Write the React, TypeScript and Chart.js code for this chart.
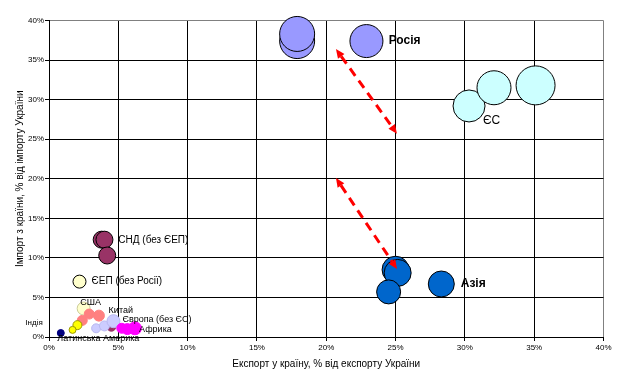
import React, { useEffect, useRef } from "react";
import { Chart, registerables } from "chart.js";

Chart.register(...registerables);

// ---- data (x: export share %, y: import share %, r: bubble radius px) ----
const russiaX = [17.9, 17.9, 22.9];
const russiaY = [37.4, 38.3, 37.4];
const russiaR = [17.5, 17.5, 16.5];

const euX = [30.3, 32.1, 35.1];
const euY = [29.2, 31.5, 31.8];
const euR = [16, 17, 19.5];

const asiaX = [25.0, 25.15, 24.5, 28.3];
const asiaY = [8.5, 8.1, 5.7, 6.7];
const asiaR = [13.5, 13.5, 12, 13];

const cisX = [3.8, 4.0, 4.2];
const cisY = [12.3, 12.3, 10.3];
const cisR = [8.5, 8.5, 8.5];

const eepX = [2.2];
const eepY = [7.0];
const eepR = [6.5];

const usaX = [2.5];
const usaY = [3.6];
const usaR = [6.5];

const chinaX = [2.4, 2.9, 3.6];
const chinaY = [2.1, 2.9, 2.7];
const chinaR = [5, 5, 5.5];

const indiaX = [2.05, 1.7];
const indiaY = [1.5, 0.9];
const indiaR = [4.5, 3.5];

const europeX = [3.4, 4.0, 4.65];
const europeY = [1.1, 1.4, 2.0];
const europeR = [4.5, 5, 6.5];

const otherX = [4.5];
const otherY = [1.3];
const otherR = [4.5];

const africaX = [5.25, 5.65, 6.2];
const africaY = [1.1, 1.0, 1.1];
const africaR = [5, 5.5, 6.5];

const latamX = [0.85];
const latamY = [0.5];
const latamR = [3.5];

const tickValues = [0, 5, 10, 15, 20, 25, 30, 35, 40];

// arrows: [x1, y1, x2, y2]
const arrow1 = [20.7, 36.4, 25.1, 25.7];
const arrow2 = [20.7, 20.1, 25.1, 8.6];

// labels
const labelTexts = ["Росія", "ЄС", "Азія", "СНД (без ЄЕП)", "ЄЕП (без Росії)", "США", "Китай", "Європа (без ЄС)", "Африка", "Латинська Америка", "Індія"];
const labelX = [24.5, 31.3, 29.7, 5.0, 3.07, 3.0, 4.3, 5.3, 6.5, 0.6, -0.45];
const labelY = [37.5, 27.3, 6.7, 12.2, 7.0, 4.4, 3.4, 2.25, 0.9, -0.25, 1.75];
const labelFont = ["bold 12px Arial, 'Liberation Sans', sans-serif", "12px Arial, 'Liberation Sans', sans-serif", "bold 12px Arial, 'Liberation Sans', sans-serif", "10px Arial, 'Liberation Sans', sans-serif", "10px Arial, 'Liberation Sans', sans-serif", "9px Arial, 'Liberation Sans', sans-serif", "9px Arial, 'Liberation Sans', sans-serif", "9px Arial, 'Liberation Sans', sans-serif", "9px Arial, 'Liberation Sans', sans-serif", "9px Arial, 'Liberation Sans', sans-serif", "8px Arial, 'Liberation Sans', sans-serif"];
const labelAlign = ["left", "left", "left", "left", "left", "center", "left", "left", "left", "left", "right"];

const pts = (xs: number[], ys: number[], rs: number[]) => xs.map((x, i) => ({ x, y: ys[i], r: rs[i] }));

const annotPlugin = {
  id: "annot",
  afterDatasetsDraw(chart: any) {
    const ctx = chart.ctx;
    const xs = chart.scales.x;
    const ys = chart.scales.y;
    const drawArrow = (a: number[]) => {
      const x1 = xs.getPixelForValue(a[0]);
      const y1 = ys.getPixelForValue(a[1]);
      const x2 = xs.getPixelForValue(a[2]);
      const y2 = ys.getPixelForValue(a[3]);
      const ang = Math.atan2(y2 - y1, x2 - x1);
      const head = 9;
      const hw = 4;
      ctx.save();
      ctx.strokeStyle = "#ff0000";
      ctx.fillStyle = "#ff0000";
      ctx.lineWidth = 3;
      ctx.setLineDash([9, 6]);
      ctx.beginPath();
      ctx.moveTo(x1 + Math.cos(ang) * head, y1 + Math.sin(ang) * head);
      ctx.lineTo(x2 - Math.cos(ang) * head, y2 - Math.sin(ang) * head);
      ctx.stroke();
      ctx.setLineDash([]);
      const tri = (px: number, py: number, dir: number) => {
        ctx.beginPath();
        ctx.moveTo(px, py);
        ctx.lineTo(px - Math.cos(dir) * head - Math.sin(dir) * hw, py - Math.sin(dir) * head + Math.cos(dir) * hw);
        ctx.lineTo(px - Math.cos(dir) * head + Math.sin(dir) * hw, py - Math.sin(dir) * head - Math.cos(dir) * hw);
        ctx.closePath();
        ctx.fill();
      };
      tri(x2, y2, ang);
      tri(x1, y1, ang + Math.PI);
      ctx.restore();
    };
    drawArrow(arrow1);
    drawArrow(arrow2);

    ctx.save();
    ctx.fillStyle = "#000";
    ctx.textBaseline = "middle";
    labelTexts.forEach((t, i) => {
      ctx.font = labelFont[i];
      ctx.textAlign = labelAlign[i];
      ctx.fillText(t, xs.getPixelForValue(labelX[i]), ys.getPixelForValue(labelY[i]));
    });
    ctx.restore();
  },
};

export default function App() {
  const ref = useRef<HTMLCanvasElement | null>(null);
  useEffect(() => {
    document.body.style.margin = "0";
    if (!ref.current) return;
    Chart.defaults.font.family = "Arial, 'Liberation Sans', sans-serif";
    const ds = (data: any[], bg: string, border: string) => ({
      data,
      backgroundColor: bg,
      borderColor: border,
      borderWidth: 1,
      clip: false as any,
    });
    const gridColor = (c: any) => (c.tick && c.tick.value === 40 ? "#808080" : "#000000");
    const chart = new Chart(ref.current, {
      type: "bubble",
      data: {
        datasets: [
          ds(pts(latamX, latamY, latamR), "#000080", "#000080"),
          ds(pts(africaX, africaY, africaR), "#ff00ff", "#ff00ff"),
          ds(pts(europeX, europeY, europeR), "#ccccff", "#b8b8f0"),
          ds(pts(otherX, otherY, otherR), "#993366", "#993366"),
          ds(pts(indiaX, indiaY, indiaR), "#ffff00", "#999900"),
          ds(pts(chinaX, chinaY, chinaR), "#ff8080", "#ff8080"),
          ds(pts(usaX, usaY, usaR), "#ffffcc", "#cccc99"),
          ds(pts(eepX, eepY, eepR), "#ffffcc", "#000000"),
          ds(pts(cisX, cisY, cisR), "#993366", "#000000"),
          ds(pts(asiaX, asiaY, asiaR), "#0066cc", "#000000"),
          ds(pts(euX, euY, euR), "#ccffff", "#000000"),
          ds(pts(russiaX, russiaY, russiaR), "#9999ff", "#000000"),
        ],
      },
      options: {
        animation: false,
        responsive: false,
        events: [],
        layout: { padding: { left: 0, right: 20, top: 16, bottom: 0 } },
        plugins: { legend: { display: false }, tooltip: { enabled: false } },
        scales: {
          x: {
            type: "linear",
            min: 0,
            max: 40,
            afterBuildTicks: (s: any) => {
              s.ticks = tickValues.map((v) => ({ value: v }));
            },
            afterFit: (s: any) => {
              s.height = 47;
            },
            ticks: {
              callback: (v: any) => v + "%",
              font: { size: 8 },
              color: "#000",
              padding: 2,
              maxRotation: 0,
            },
            grid: { color: gridColor, tickColor: "#000", tickLength: 4, lineWidth: 1 },
            border: { color: "#000" },
            title: {
              display: true,
              text: "Експорт у країну, % від експорту України",
              font: { size: 10 },
              color: "#000",
              padding: { top: 0, bottom: 14 },
            },
          },
          y: {
            type: "linear",
            min: 0,
            max: 40,
            afterBuildTicks: (s: any) => {
              s.ticks = tickValues.map((v) => ({ value: v }));
            },
            afterFit: (s: any) => {
              s.width = 49;
            },
            ticks: {
              callback: (v: any) => v + "%",
              font: { size: 8 },
              color: "#000",
              padding: 1,
            },
            grid: { color: gridColor, tickColor: "#000", tickLength: 4, lineWidth: 1 },
            border: { color: "#000" },
            title: {
              display: true,
              text: "Імпорт з країни, % від імпорту України",
              font: { size: 10 },
              color: "#000",
              padding: { top: 14, bottom: 0 },
            },
          },
        },
      },
      plugins: [annotPlugin],
    } as any);
    return () => chart.destroy();
  }, []);
  return (
    <div style={{ width: 624, height: 384, background: "#fff" }}>
      <canvas ref={ref} width={624} height={384} />
    </div>
  );
}
